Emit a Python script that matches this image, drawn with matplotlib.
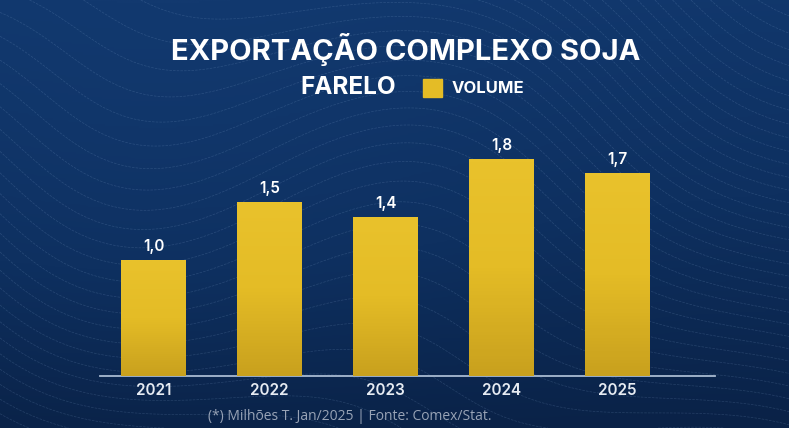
import matplotlib.pyplot as plt
import numpy as np
from matplotlib.colors import LinearSegmentedColormap


years = ['2021', '2022', '2023', '2024', '2025']
volumes = [1.0, 1.5, 1.37, 1.87, 1.75]
value_labels = ['1,0', '1,5', '1,4', '1,8', '1,7']

title = 'EXPORTAÇÃO COMPLEXO SOJA'
subtitle = 'FARELO'
legend_label = 'VOLUME'
footer = '(*) Milhões T. Jan/2025 | Fonte: Comex/Stat.'

BAR_YELLOW = '#E4BC26'
W, H = 789, 428
HEAD_FONT = ['Inter', 'DejaVu Sans']


def draw_background(fig):
	bg = fig.add_axes([0, 0, 1, 1], zorder=-10)
	bg.set_xlim(0, W)
	bg.set_ylim(0, H)
	bg.axis('off')
	# vertical navy gradient
	cmap = LinearSegmentedColormap.from_list('navy', ['#0a2247', '#0e3060', '#12396f'])
	yy, xx = np.mgrid[0:1:200j, 0:1:300j]
	shade = yy * 0.8 + 0.2 * np.exp(-((xx - 0.2) ** 2 + (yy - 0.6) ** 2) * 4)
	bg.imshow(shade, cmap=cmap, extent=[0, W, 0, H], origin='lower', aspect='auto')
	# faint wavy contour lines (decoration only)
	gx, gy = np.meshgrid(np.linspace(0, W, 300), np.linspace(0, H, 200))
	field = (gy / 18.0 + 3.0 * np.sin(gx / 140.0 + gy / 200.0)
		+ 2.0 * np.cos(gx / 90.0 - gy / 160.0) + gx / 60.0)
	bg.contour(gx, gy, field, levels=40, colors='#8fb0d8', linewidths=0.5,
		linestyles='dashed', alpha=0.2)
	bg.set_xlim(0, W)
	bg.set_ylim(0, H)


def main():
	fig = plt.figure(figsize=(W / 100, H / 100), dpi=100)
	draw_background(fig)

	# axes placed so bar centres and baseline sit where the reference has them
	left_px, right_px = 100, 715
	base_px, top_px = 376, 140
	ax = fig.add_axes([left_px / W, (H - base_px) / H, (right_px - left_px) / W, (base_px - top_px) / H])
	ax.patch.set_alpha(0)
	unit_px = 116.0

	x = np.arange(len(years))
	bars = ax.bar(x, volumes, width=0.56, color=BAR_YELLOW, zorder=2)

	# slight darker shading toward the bottom of each bar
	grad = LinearSegmentedColormap.from_list('bar', ['#C9A11E', BAR_YELLOW, '#E9C22C'])
	for b in bars:
		img = ax.imshow(np.linspace(0, 1, 64).reshape(-1, 1), cmap=grad, origin='lower',
			extent=[b.get_x(), b.get_x() + b.get_width(), 0, b.get_height()],
			aspect='auto', zorder=3)
		img.set_clip_path(b)
	ax.set_xlim((left_px - 153.5) / unit_px, (right_px - 153.5) / unit_px)
	ax.set_ylim(0, (base_px - top_px) / unit_px)

	for xi, v, lab in zip(x, volumes, value_labels):
		ax.annotate(lab, (xi, v), xytext=(0, 4.5), textcoords='offset points',
			ha='center', va='bottom', color='white', fontsize=11,
			fontfamily=HEAD_FONT, fontweight='semibold', zorder=5)

	for s in ['top', 'right', 'left']:
		ax.spines[s].set_visible(False)
	ax.spines['bottom'].set_color('#a9bbd2')
	ax.spines['bottom'].set_linewidth(1.3)
	ax.set_yticks([])
	ax.set_xticks(x)
	ax.set_xticklabels(years, color='#e6ebf2', fontsize=11, fontfamily=HEAD_FONT,
		fontweight='semibold')
	ax.tick_params(axis='x', length=0, pad=5)

	# header texts
	fig.text(406 / W, 1 - 50 / H, title, ha='center', va='center', color='white',
		fontsize=21, fontfamily=HEAD_FONT, fontweight='bold')
	fig.text(348.5 / W, 1 - 87.5 / H, subtitle, ha='center', va='center', color='white',
		fontsize=17.5, fontfamily=HEAD_FONT, fontweight='bold')
	fig.patches.append(plt.Rectangle((423 / W, 1 - 97 / H), 19 / W, 18 / H,
		transform=fig.transFigure, color=BAR_YELLOW, figure=fig))
	fig.text(452 / W, 1 - 88.5 / H, legend_label, ha='left', va='center', color='white',
		fontsize=12, fontfamily=HEAD_FONT, fontweight='bold')

	fig.text(350 / W, 1 - 417 / H, footer, ha='center', va='center', color='#98a3b6',
		fontsize=10, fontfamily='Open Sans')

	plt.savefig('out.png', dpi=100)


if __name__ == '__main__':
	main()
